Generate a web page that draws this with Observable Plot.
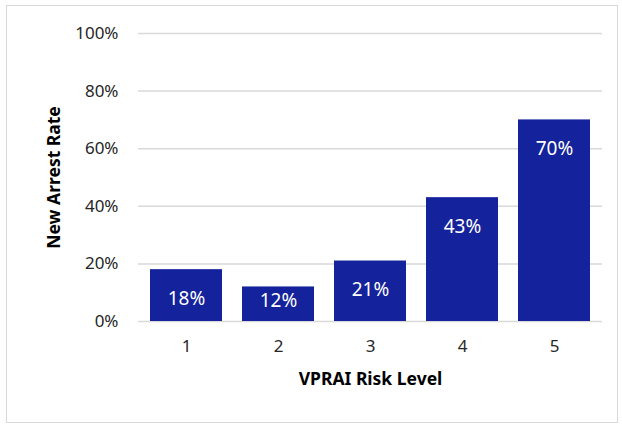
<!DOCTYPE html>
<html>
<head>
<meta charset="utf-8">
<script src="https://cdn.jsdelivr.net/npm/d3@7"></script>
<script src="https://cdn.jsdelivr.net/npm/@observablehq/plot@0.6"></script>
<style>
  html, body { margin: 0; padding: 0; background: #fff; }
  #wrap { position: relative; width: 622px; height: 426px; }
  #frame { position: absolute; left: 6px; top: 5px; width: 612px; height: 418px; border: 1px solid #d9d9d9; box-sizing: border-box; }
  #chart { position: absolute; left: 0; top: 0; }
</style>
</head>
<body>
<div id="wrap"><div id="frame"></div><div id="chart"></div></div>
<script>
const levels = ["1", "2", "3", "4", "5"];
const rates = [0.18, 0.12, 0.21, 0.43, 0.70];
const yTicks = [0, 0.2, 0.4, 0.6, 0.8, 1.0];
const xTitle = "VPRAI Risk Level";
const yTitle = "New Arrest Rate";

const data = levels.map((l, i) => ({level: l, rate: rates[i]}));
const pct = d3.format(".0%");

const chart = Plot.plot({
  width: 622,
  height: 426,
  marginLeft: 138,
  marginRight: 20,
  marginTop: 33,
  marginBottom: 105,
  style: {fontFamily: "'Noto Sans', sans-serif", background: "transparent", color: "#262626"},
  x: {domain: levels, paddingInner: 0.22, paddingOuter: 0.11, label: null},
  y: {domain: [0, 1], label: null},
  marks: [
    Plot.gridY(yTicks, {stroke: "#d9d9d9", strokeOpacity: 1, strokeWidth: 1.5}),
    Plot.barY(data, {x: "level", y: "rate", fill: "#14239b"}),
    Plot.text(data, {x: "level", y: d => Math.max(d.rate - 0.102, 0.07), text: d => pct(d.rate), fill: "white", fontSize: 19}),
    Plot.axisX({tickSize: 0, tickPadding: 18, fontSize: 17, label: null}),
    Plot.axisY(yTicks, {tickSize: 0, tickPadding: 20, fontSize: 17, tickFormat: pct, label: null}),
    Plot.text([xTitle], {frameAnchor: "bottom", dy: 63, fontSize: 17.5, fontWeight: "bold", fill: "black"}),
    Plot.text([yTitle], {frameAnchor: "left", textAnchor: "middle", dx: -84, rotate: -90, fontSize: 17.5, fontWeight: "bold", fill: "black"})
  ]
});
document.getElementById("chart").appendChild(chart);
</script>
</body>
</html>
